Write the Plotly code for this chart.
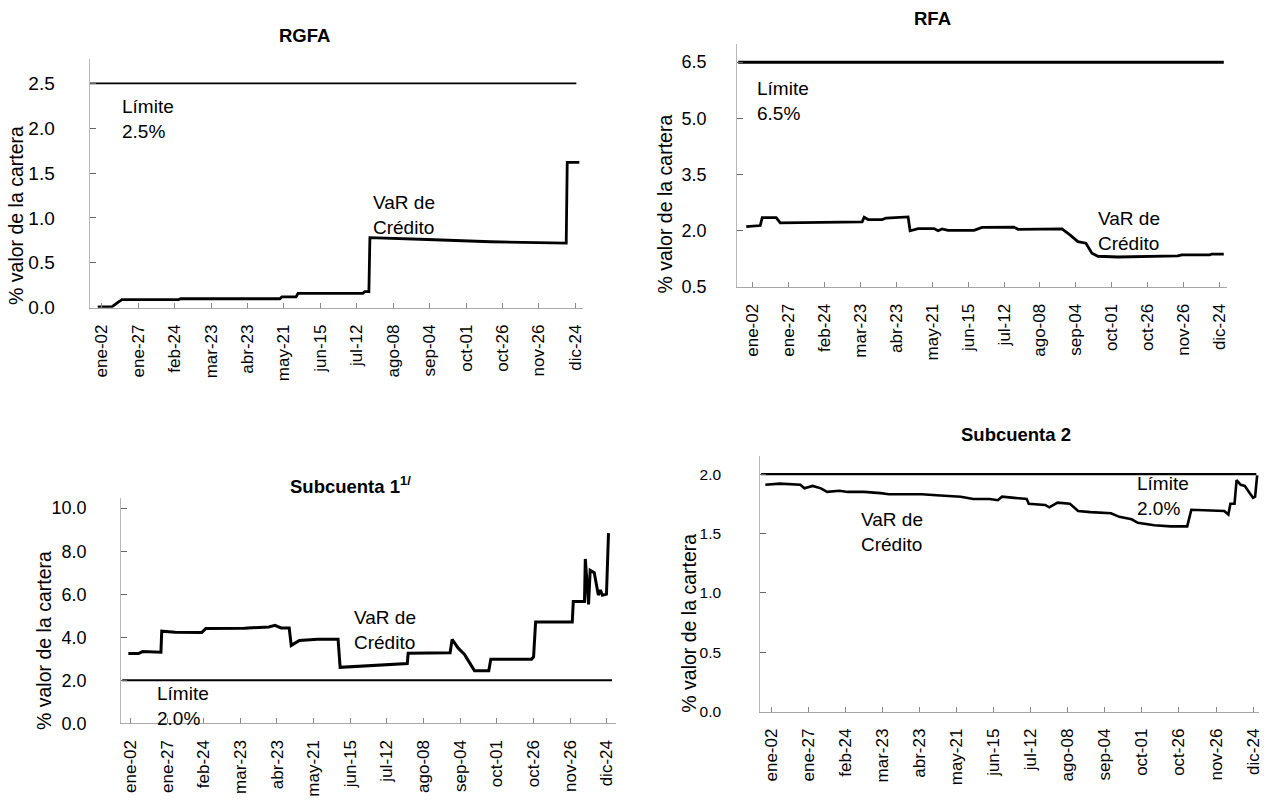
import plotly.graph_objects as go

# ---------------- data ----------------
FECHAS = ["ene-02", "ene-27", "feb-24", "mar-23", "abr-23", "may-21", "jun-15",
          "jul-12", "ago-08", "sep-04", "oct-01", "oct-26", "nov-26", "dic-24"]
# observation (business-day) index at which each date label sits
POS_FECHAS = [0, 18, 36, 54, 72, 90, 108, 126, 144, 162, 180, 198, 216, 234]

# RGFA
RGFA_X = [-2, 5, 8, 10, 38, 39, 88, 89, 96, 97, 129, 130, 132, 132.5, 161, 192, 229.5, 230, 236]
RGFA_VAR = [0.01, 0.01, 0.06, 0.09, 0.09, 0.10, 0.10, 0.12, 0.12, 0.16, 0.16, 0.18, 0.18,
            0.78, 0.76, 0.735, 0.72, 1.62, 1.62]
RGFA_LIM_X = [-6, 234.5]
RGFA_LIMITE = 2.5

# RFA
RFA_X = [-3, 4, 5, 12, 14, 55, 56, 58, 65, 67, 78, 79, 83, 91, 93, 95, 98, 111, 115,
         131, 133, 155, 159, 163, 167, 170, 173, 183, 213, 215, 229, 230, 236]
RFA_VAR = [2.11, 2.14, 2.35, 2.35, 2.21, 2.24, 2.36, 2.30, 2.30, 2.34, 2.37, 2.00, 2.06,
           2.06, 2.00, 2.05, 2.01, 2.01, 2.09, 2.10, 2.04, 2.05, 1.89, 1.71, 1.67, 1.40,
           1.32, 1.30, 1.33, 1.36, 1.36, 1.38, 1.38]
RFA_LIM_X = [-7, 236]
RFA_LIMITE = 6.5

# Subcuenta 1
SUB1_X = [-1, 4, 6, 15, 15.4, 22, 35, 37, 56, 68, 71, 74, 78, 79, 83, 92, 102, 103, 136,
          136.4, 157, 158, 161, 164, 167, 169, 176, 177, 197, 198, 199, 217, 217.5, 223,
          223.4, 225, 225.8, 227.8, 229.8, 230.8, 231.8, 233.8, 234.8]
SUB1_VAR = [3.24, 3.24, 3.33, 3.30, 4.28, 4.23, 4.22, 4.40, 4.42, 4.48, 4.55, 4.43, 4.43,
            3.62, 3.85, 3.90, 3.90, 2.60, 2.78, 3.25, 3.28, 3.90, 3.49, 3.21, 2.75, 2.44,
            2.44, 2.98, 2.98, 3.09, 4.71, 4.71, 5.66, 5.66, 7.64, 5.53, 7.11, 7.00, 5.96,
            6.19, 5.95, 6.00, 8.84]
SUB1_LIM_X = [-4, 236.5]
SUB1_LIMITE = 2.0

# Subcuenta 2
SUB2_X = [-3, 4, 14, 16, 20, 24, 27, 33, 37, 45, 53, 57, 63, 73, 82, 92, 98, 106, 110,
          112, 118, 124, 125, 133, 135, 139, 145, 149, 155, 165, 169, 175, 178, 186, 194,
          202, 204, 220, 222, 223, 225, 226, 228, 230, 232, 234, 235, 236]
SUB2_VAR = [1.91, 1.92, 1.91, 1.88, 1.90, 1.88, 1.85, 1.86, 1.85, 1.85, 1.84, 1.83, 1.83,
            1.83, 1.82, 1.81, 1.79, 1.79, 1.78, 1.81, 1.80, 1.79, 1.75, 1.74, 1.72, 1.76,
            1.75, 1.69, 1.68, 1.67, 1.64, 1.62, 1.59, 1.57, 1.56, 1.56, 1.70, 1.69, 1.66,
            1.75, 1.75, 1.95, 1.91, 1.90, 1.85, 1.80, 1.81, 1.99]
SUB2_LIM_X = [-5, 235.6]
SUB2_LIMITE = 2.0

# ---------------- layout helpers ----------------
FONT = "Liberation Sans, Arial, Helvetica, sans-serif"
W, H = 1271, 802

panels = [
    dict(title="<b>RGFA</b>", tpos=(305, 36),
         xdom=(89.8, 584.8), ydom=(312, 60), xr=[-6, 238], yr=[0, 2.769],
         yticks=[0, 0.5, 1.0, 1.5, 2.0, 2.5], ystand=30, yfs=19,
         x=RGFA_X, y=RGFA_VAR, lx=RGFA_LIM_X, lim=RGFA_LIMITE, lw=1.6, vw=2.8,
         ytitle=(16, 218),
         notes=[("Límite<br>2.5%", 9, 2.38), ("VaR de<br>Crédito", 133, 1.31)]),
    dict(title="<b>RFA</b>", tpos=(935, 19),
         xdom=(739, 1229.7), ydom=(291, 45), xr=[-7.5, 237.5], yr=[0.5, 6.974],
         yticks=[0.5, 2.0, 3.5, 5.0, 6.5], ystand=26, yfs=18,
         x=RFA_X, y=RFA_VAR, lx=RFA_LIM_X, lim=RFA_LIMITE, lw=3.0, vw=2.8,
         ytitle=(667, 207),
         notes=[("Límite<br>6.5%", 1.2, 6.12), ("VaR de<br>Crédito", 172, 2.66)]),
    dict(title="<b>Subcuenta 1<sup>1/</sup></b>", tpos=(351, 492),
         xdom=(121.5, 617.5), ydom=(733.3, 505), xr=[-4.5, 238.5], yr=[0, 10.47],
         yticks=[0, 2, 4, 6, 8, 10], ystand=30, yfs=18,
         x=SUB1_X, y=SUB1_VAR, lx=SUB1_LIM_X, lim=SUB1_LIMITE, lw=2.0, vw=3.0,
         ytitle=(44, 649),
         notes=[("VaR de<br>Crédito", 108.6, 5.5), ("Límite<br>2.0%", 12, 1.98)]),
    dict(title="<b>Subcuenta 2</b>", tpos=(1018, 441),
         xdom=(762, 1262.2), ydom=(721.7, 462), xr=[-5.5, 237], yr=[0, 2.155],
         yticks=[0, 0.5, 1.0, 1.5, 2.0], ystand=35, yfs=15.5,
         x=SUB2_X, y=SUB2_VAR, lx=SUB2_LIM_X, lim=SUB2_LIMITE, lw=2.4, vw=2.6,
         ytitle=(691, 632),
         notes=[("VaR de<br>Crédito", 42.4, 1.725), ("Límite<br>2.0%", 176.5, 2.025)]),
]

fig = go.Figure()
annotations = []
layout = dict(
    width=W, height=H, margin=dict(l=0, r=0, t=0, b=0),
    paper_bgcolor="white", plot_bgcolor="white", showlegend=False,
    font=dict(family=FONT, color="black", size=18),
)

for i, p in enumerate(panels, start=1):
    xa = "x" if i == 1 else f"x{i}"
    ya = "y" if i == 1 else f"y{i}"
    xkey = "xaxis" if i == 1 else f"xaxis{i}"
    ykey = "yaxis" if i == 1 else f"yaxis{i}"

    fig.add_trace(go.Scatter(x=p["lx"], y=[p["lim"], p["lim"]], mode="lines",
                             line=dict(color="black", width=p["lw"]),
                             xaxis=xa, yaxis=ya, cliponaxis=False,
                             name="Límite", hoverinfo="skip"))
    fig.add_trace(go.Scatter(x=p["x"], y=p["y"], mode="lines",
                             line=dict(color="black", width=p["vw"]),
                             xaxis=xa, yaxis=ya, cliponaxis=False,
                             name="VaR de Crédito"))

    layout[xkey] = dict(
        domain=[p["xdom"][0] / W, p["xdom"][1] / W], range=p["xr"], anchor=ya,
        tickmode="array", tickvals=POS_FECHAS, ticktext=FECHAS, tickangle=-90,
        tickfont=dict(size=17, family=FONT, color="black"),
        showline=True, linecolor="#a8a8a8", linewidth=1,
        ticks="inside", ticklen=5, tickcolor="#888888",
        showgrid=False, zeroline=False, ticklabelstandoff=9,
    )
    layout[ykey] = dict(
        domain=[1 - p["ydom"][0] / H, 1 - p["ydom"][1] / H], range=p["yr"], anchor=xa,
        tickmode="array", tickvals=p["yticks"], tickformat=".1f",
        tickfont=dict(size=p["yfs"], family=FONT, color="black"),
        showline=True, linecolor="#b8b8b8", linewidth=1,
        ticks="inside", ticklen=6, tickcolor="#666666",
        showgrid=False, zeroline=False, ticklabelstandoff=p["ystand"],
    )

    annotations.append(dict(text=p["title"], x=p["tpos"][0] / W, y=1 - p["tpos"][1] / H,
                            xref="paper", yref="paper", xanchor="center", yanchor="middle",
                            showarrow=False, font=dict(size=18.5, family=FONT, color="black")))
    annotations.append(dict(text="% valor de la cartera", x=p["ytitle"][0] / W,
                            y=1 - p["ytitle"][1] / H, xref="paper", yref="paper",
                            xanchor="center", yanchor="middle", textangle=-90,
                            showarrow=False, font=dict(size=19.5, family=FONT, color="black")))
    for txt, nx, ny in p["notes"]:
        annotations.append(dict(text=txt, x=nx, y=ny, xref=xa, yref=ya,
                                xanchor="left", yanchor="top", align="left",
                                showarrow=False,
                                font=dict(size=19, family=FONT, color="black")))

layout["annotations"] = annotations
fig.update_layout(**layout)
fig.write_html("out.html", config={"displayModeBar": False},
               post_script="document.body.style.margin='0';document.body.style.overflow='hidden';")
